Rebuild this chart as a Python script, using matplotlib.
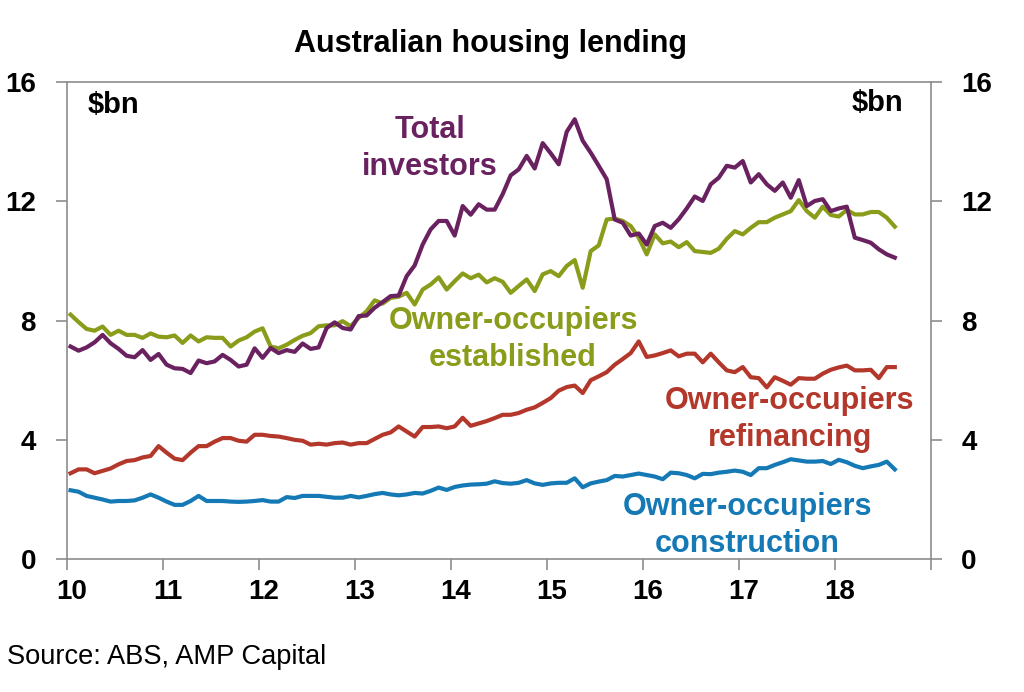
import numpy as np
import matplotlib
matplotlib.use("Agg")
import matplotlib.pyplot as plt
from matplotlib.transforms import ScaledTranslation

plt.rcParams['font.family'] = ['Liberation Sans', 'DejaVu Sans']

# monthly, Jan 2010 - Aug 2018, $bn
total_investors = [
    7.13, 6.99, 7.10, 7.27, 7.52, 7.24, 7.05, 6.82, 6.77, 7.01, 6.68, 6.88, 6.52, 6.40, 6.38, 6.24,
    6.66, 6.57, 6.63, 6.85, 6.68, 6.46, 6.52, 7.07, 6.75, 7.08, 6.91, 7.01, 6.95,
    7.23, 7.05, 7.10, 7.75, 7.94, 7.75, 7.70, 8.15, 8.17, 8.43, 8.62, 8.82, 8.84, 9.49, 9.85, 10.55,
    11.06, 11.34,
    11.34, 10.85, 11.84, 11.55, 11.90, 11.72, 11.72, 12.24, 12.87, 13.07, 13.52, 13.10, 13.95, 13.61,
    13.24, 14.33, 14.75, 14.03, 13.63, 13.19, 12.74, 11.39, 11.28, 10.85, 10.92, 10.55, 11.17, 11.28,
    11.11, 11.40, 11.76, 12.16, 12.01, 12.57, 12.79, 13.19, 13.13, 13.35, 12.63, 12.91, 12.57, 12.35,
    12.63, 12.12, 12.71, 11.84, 12.01, 12.07, 11.67, 11.76, 11.82, 10.78, 10.70, 10.61, 10.39, 10.22,
    10.11,
]
oo_established = [
    8.20, 7.95, 7.72, 7.66, 7.80, 7.52, 7.66, 7.52, 7.52, 7.42, 7.57, 7.46, 7.44, 7.50, 7.25, 7.50,
    7.30, 7.44, 7.42, 7.42, 7.13, 7.33, 7.44, 7.63, 7.74, 7.13, 7.07, 7.19, 7.35,
    7.49, 7.58, 7.81, 7.84, 7.84, 7.98, 7.81, 8.09, 8.31, 8.68, 8.57, 8.76, 8.80, 8.93, 8.54, 9.04,
    9.21, 9.45,
    9.04, 9.32, 9.58, 9.42, 9.54, 9.28, 9.42, 9.30, 8.93, 9.16, 9.38, 8.99, 9.55, 9.66, 9.49, 9.83,
    10.03, 9.10, 10.33, 10.52, 11.39, 11.42, 11.34, 11.17, 10.78, 10.22, 10.89, 10.59,
    10.65, 10.46, 10.63, 10.33, 10.30, 10.27, 10.41, 10.74, 11.00, 10.89, 11.11, 11.30, 11.30, 11.45,
    11.56, 11.67, 12.04, 11.67, 11.45, 11.82, 11.54, 11.49, 11.71, 11.56, 11.56, 11.64, 11.64, 11.45,
    11.15,
]
oo_refinancing = [
    2.88, 3.01, 3.01, 2.88, 2.96, 3.04, 3.18, 3.29, 3.32, 3.41, 3.46, 3.79, 3.57, 3.37, 3.32, 3.57,
    3.79, 3.79, 3.94, 4.06, 4.06, 3.97, 3.94, 4.17, 4.17, 4.13, 4.11, 4.06, 4.00,
    3.97, 3.84, 3.87, 3.84, 3.89, 3.91, 3.84, 3.89, 3.89, 4.03, 4.17, 4.25, 4.45, 4.28, 4.11, 4.43,
    4.43, 4.45,
    4.39, 4.45, 4.74, 4.47, 4.55, 4.63, 4.73, 4.84, 4.84, 4.90, 5.01, 5.09, 5.24, 5.40, 5.65, 5.77,
    5.82, 5.57, 6.00, 6.13, 6.27, 6.52, 6.71, 6.91, 7.30, 6.78, 6.83, 6.91,
    7.00, 6.80, 6.89, 6.89, 6.60, 6.89, 6.60, 6.33, 6.27, 6.44, 6.10, 6.07, 5.76, 6.10, 5.98, 5.85,
    6.07, 6.05, 6.05, 6.22, 6.35, 6.43, 6.49, 6.33, 6.33, 6.35, 6.07, 6.44, 6.44,
]
oo_construction = [
    2.31, 2.26, 2.12, 2.06, 2.00, 1.93, 1.95, 1.95, 1.97, 2.06, 2.17, 2.06, 1.93, 1.82, 1.82, 1.95,
    2.12, 1.95, 1.95, 1.95, 1.93, 1.92, 1.93, 1.95, 1.98, 1.93, 1.93, 2.08, 2.05,
    2.12, 2.12, 2.12, 2.09, 2.06, 2.06, 2.12, 2.07, 2.12, 2.18, 2.22, 2.17, 2.14, 2.17, 2.22, 2.20,
    2.29, 2.40,
    2.32, 2.42, 2.47, 2.50, 2.51, 2.53, 2.61, 2.55, 2.53, 2.56, 2.65, 2.54, 2.49, 2.54, 2.56, 2.56,
    2.71, 2.41, 2.54, 2.60, 2.65, 2.79, 2.77, 2.82, 2.87, 2.82, 2.77, 2.68,
    2.90, 2.88, 2.82, 2.71, 2.86, 2.85, 2.90, 2.93, 2.97, 2.93, 2.82, 3.05, 3.05, 3.16, 3.25, 3.35,
    3.31, 3.27, 3.27, 3.29, 3.19, 3.33, 3.25, 3.13, 3.05, 3.11, 3.16, 3.27, 3.01,
]
year_ticks = list(range(10, 20))
year_labels = ['10', '11', '12', '13', '14', '15', '16', '17', '18', '']
y_ticks = [0, 4, 8, 12, 16]

purple = '#6a2160'
green = '#8a9c1a'
red = '#b3382b'
blue = '#1479b5'
grey = '#8c8c8c'

n = len(total_investors)
x = 10 + (np.arange(n) + 0.5) / 12

fig = plt.figure(figsize=(10.24, 6.92), dpi=100)
ax = fig.add_axes([0.065, 0.192, 0.844, 0.6895])

ax.plot(x, oo_construction, color=blue, lw=3)
ax.plot(x, oo_refinancing, color=red, lw=3)
ax.plot(x, oo_established, color=green, lw=3)
ax.plot(x, total_investors, color=purple, lw=3)

ax.set_xlim(10, 19)
ax.set_ylim(0, 16)
ax.set_xticks(year_ticks)
ax.set_xticklabels(year_labels)
ax.set_yticks(y_ticks)
ax.tick_params(axis='both', direction='out', length=8, width=1.2, color=grey,
               labelsize=20, pad=6)
ax.tick_params(axis='y', right=True, labelright=True, pad=14)
for lbl in ax.get_xticklabels() + ax.get_yticklabels():
    lbl.set_fontweight('bold')
for lbl in ax.get_xticklabels():
    lbl.set_transform(lbl.get_transform() + ScaledTranslation(0.05, 0, fig.dpi_scale_trans))
for sp in ax.spines.values():
    sp.set_color(grey)
    sp.set_linewidth(1.2)

ax.text(0.0246, 0.935, '$bn', transform=ax.transAxes, fontsize=21, fontweight='bold',
        ha='left', va='baseline')
ax.text(0.9676, 0.94, '$bn', transform=ax.transAxes, fontsize=21, fontweight='bold',
        ha='right', va='baseline')

# va='baseline' on two-line text pins the second line
lab = dict(fontsize=22, fontweight='bold', ha='center', va='baseline', linespacing=1.3)
ax.text(13.78, 12.89, 'Total\ninvestors', color=purple, **lab)
ax.text(14.65, 6.48, 'Owner-occupiers\nestablished', color=green, **lab)
ax.text(17.53, 3.79, 'Owner-occupiers\nrefinancing', color=red, **lab)
ax.text(17.09, 0.25, 'Owner-occupiers\nconstruction', color=blue, **lab)

fig.text(491 / 1024, 1 - 52 / 692, 'Australian housing lending', fontsize=22,
         fontweight='bold', ha='center', va='baseline')
fig.text(7 / 1024, 1 - 664 / 692, 'Source: ABS, AMP Capital', fontsize=19.6,
         ha='left', va='baseline')

fig.savefig('out.png', dpi=100)
